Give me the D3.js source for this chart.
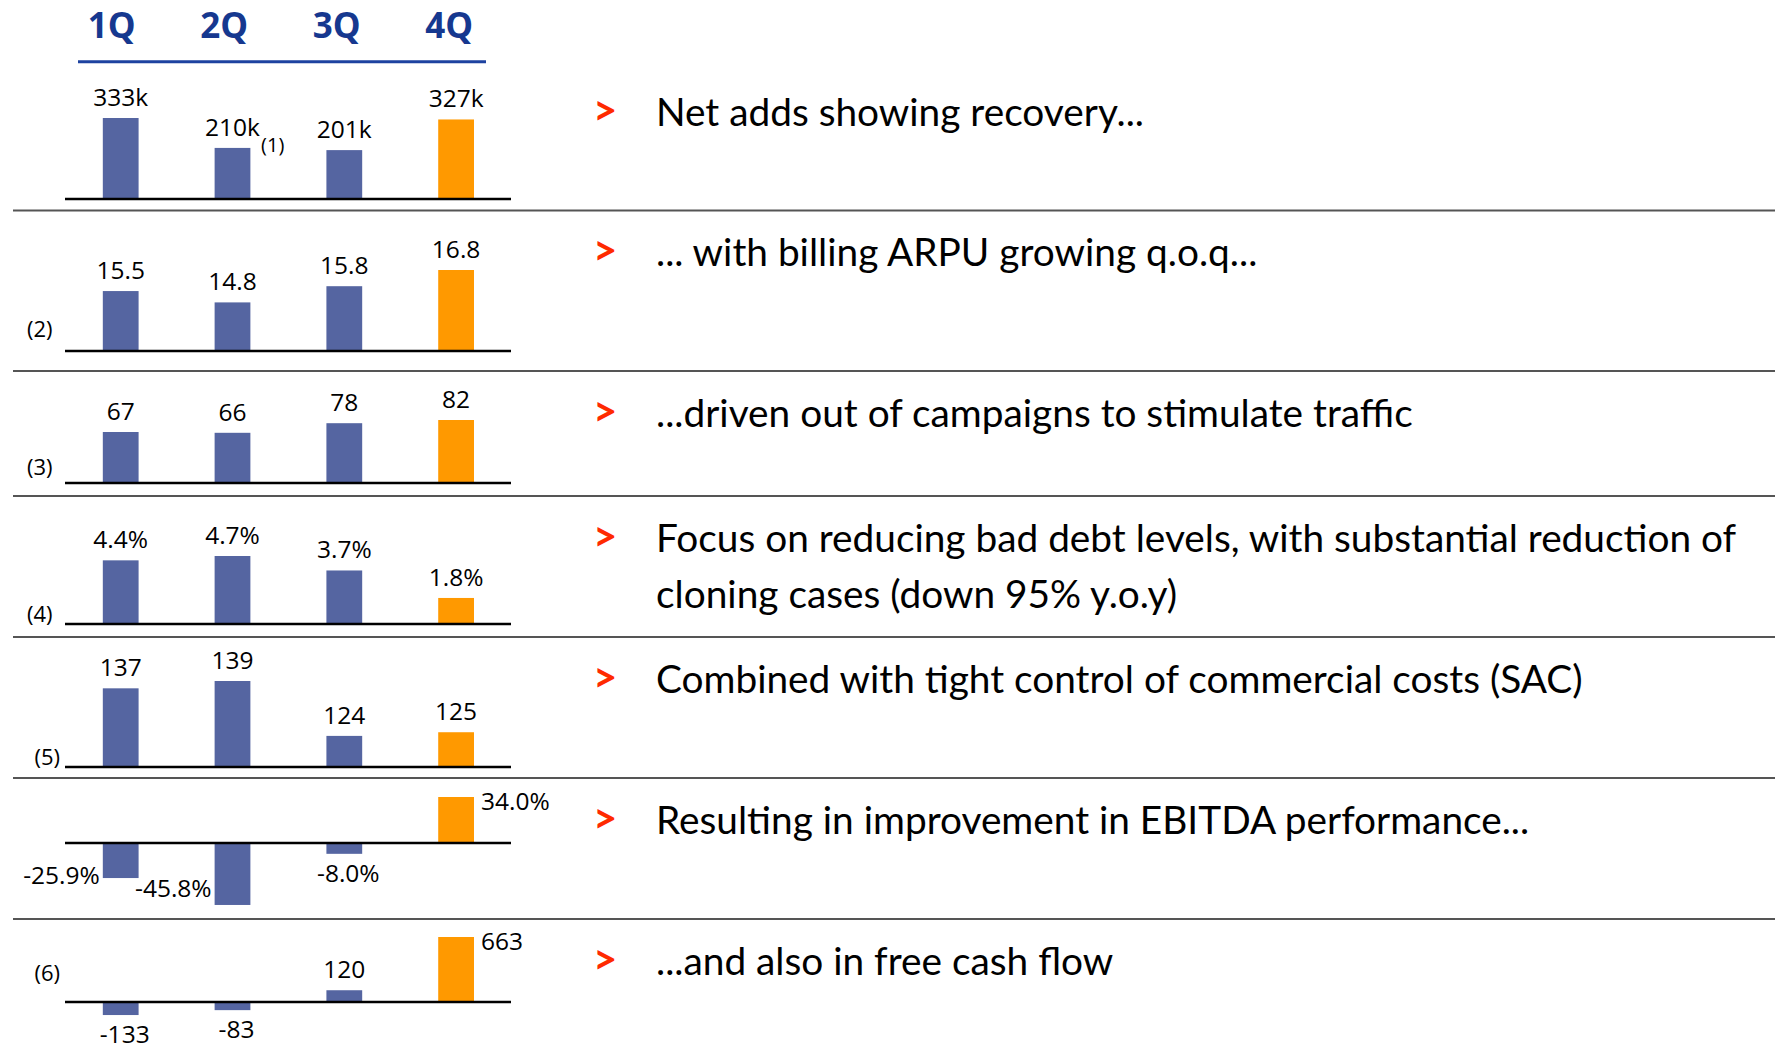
<!DOCTYPE html>
<html>
<head>
<meta charset="utf-8">
<script src="https://cdn.jsdelivr.net/npm/d3@7"></script>
<style>
  html, body { margin: 0; padding: 0; background: #ffffff; }
  svg { display: block; }
</style>
</head>
<body>
<svg id="chart" width="1778" height="1050"></svg>
<script>
// ---------------- DATA ----------------
const quarters = ["1Q", "2Q", "3Q", "4Q"];

const netAdds      = [333, 210, 201, 327];      // thousands
const billingArpu  = [15.5, 14.8, 15.8, 16.8];
const mou          = [67, 66, 78, 82];
const badDebt      = [4.4, 4.7, 3.7, 1.8];      // %
const sac          = [137, 139, 124, 125];
const ebitdaMargin = [-25.9, -45.8, -8.0, 34.0]; // %
const freeCashFlow = [-133, -83, 120, 663];

const footnotes = ["", "(2)", "(3)", "(4)", "(5)", "", "(6)"];
const netAddsNote = "(1)";

const commentary = [
  ["Net adds showing recovery..."],
  ["... with billing ARPU growing q.o.q..."],
  ["...driven out of campaigns to stimulate traffic"],
  ["Focus on reducing bad debt levels, with substantial reduction of",
   "cloning cases (down 95% y.o.y)"],
  ["Combined with tight control of commercial costs (SAC)"],
  ["Resulting in improvement in EBITDA performance..."],
  ["...and also in free cash flow"]
];

// label placement keywords per row
const placeEbitda = ["left", "left", "below", "right"];
const placeFcf    = ["below", "below", "above", "right"];

// ---------------- STYLE / LAYOUT ----------------
const BLUE = "#5565a1", ORANGE = "#ff9900", NAVY = "#16388f";
const numFont = "'Open Sans', 'Noto Sans', sans-serif";
const textFont = "Lato, 'Open Sans', sans-serif";

const svg = d3.select("#chart");
svg.append("rect").attr("width", 1778).attr("height", 1050).attr("fill", "#fff");

const x = d3.scaleBand().domain(quarters).range([64.8, 512]).paddingInner(0.68).paddingOuter(0.34);
const xHead = d3.scaleBand().domain(quarters).range([55.5, 505.5]);

// header
svg.selectAll("text.head").data(quarters).join("text")
  .attr("class", "head")
  .attr("x", d => xHead(d) + xHead.bandwidth() / 2)
  .attr("y", 38)
  .attr("text-anchor", "middle")
  .attr("font-family", numFont).attr("font-weight", 700).attr("font-size", 35)
  .attr("fill", NAVY)
  .text(d => d);
svg.append("line").attr("x1", 78).attr("x2", 486).attr("y1", 61.7).attr("y2", 61.7)
  .attr("stroke", "#1d42a0").attr("stroke-width", 3);

// rows: pixel layout (base = y of floor value, top = y of reference value)
const rows = [
  { values: netAdds,      floor: 0,     ref: 333,  base: 199,  top: 118, fmt: v => v + "k",            place: null,        sepTop: 70 },
  { values: billingArpu,  floor: 11.8,  ref: 16.8, base: 351,  top: 270, fmt: v => v.toFixed(1),        place: null,        sepTop: 210.5 },
  { values: mou,          floor: 3.25,  ref: 82,   base: 483,  top: 420, fmt: v => String(v),           place: null,        sepTop: 371 },
  { values: badDebt,      floor: 0,     ref: 4.7,  base: 624,  top: 556, fmt: v => v.toFixed(1) + "%",  place: null,        sepTop: 496 },
  { values: sac,          floor: 115.5, ref: 139,  base: 767,  top: 681, fmt: v => String(v),           place: null,        sepTop: 637 },
  { values: ebitdaMargin, floor: 0,     ref: 34,   base: 843,  top: 797, fmt: v => v.toFixed(1) + "%",  place: placeEbitda, sepTop: 778 },
  { values: freeCashFlow, floor: 0,     ref: 663,  base: 1002, top: 937, fmt: v => String(v),           place: placeFcf,    sepTop: 919 }
];

const footX = [0, 27, 27, 27, 34.5, 0, 34.5];
const footY = [0, 337, 475, 622, 765, 0, 981];

rows.forEach((row, ri) => {
  const y = d3.scaleLinear().domain([row.floor, row.ref]).range([row.base, row.top]);
  const g = svg.append("g");
  const data = quarters.map((q, i) => ({ q, v: row.values[i], i }));

  // separator above row (except first)
  if (ri > 0) {
    svg.append("line").attr("x1", 13).attr("x2", 1775)
      .attr("y1", row.sepTop).attr("y2", row.sepTop)
      .attr("stroke", "#555").attr("stroke-width", 2);
  }

  g.selectAll("rect").data(data).join("rect")
    .attr("x", d => x(d.q))
    .attr("width", x.bandwidth())
    .attr("y", d => Math.min(y(d.v), y(row.floor)))
    .attr("height", d => Math.abs(y(d.v) - y(row.floor)))
    .attr("fill", d => d.i === 3 ? ORANGE : BLUE);

  g.append("line").attr("x1", 65).attr("x2", 511)
    .attr("y1", row.base).attr("y2", row.base)
    .attr("stroke", "#000").attr("stroke-width", 2.5);

  const labels = g.selectAll("text.val").data(data).join("text")
    .attr("class", "val")
    .attr("font-family", numFont).attr("font-size", 24.5).attr("fill", "#000")
    .text(d => row.fmt(d.v));

  labels.each(function(d) {
    const sel = d3.select(this);
    const place = row.place ? row.place[d.i] : "above";
    const cx = x(d.q) + x.bandwidth() / 2;
    const yv = y(d.v), y0 = y(row.floor);
    if (place === "above") {
      sel.attr("x", cx).attr("y", Math.min(yv, y0) - 12).attr("text-anchor", "middle");
    } else if (place === "below") {
      sel.attr("x", cx + 4).attr("y", Math.max(yv, y0) + 28).attr("text-anchor", "middle");
    } else if (place === "left") {
      sel.attr("x", x(d.q) - 3).attr("y", (yv + y0) / 2 + 23).attr("text-anchor", "end");
    } else if (place === "right") {
      sel.attr("x", x(d.q) + x.bandwidth() + 7).attr("y", Math.min(yv, y0) + 13).attr("text-anchor", "start");
    }
  });

  // footnote marker
  if (footnotes[ri]) {
    svg.append("text").attr("x", footX[ri]).attr("y", footY[ri])
      .attr("font-family", numFont).attr("font-size", 22).attr("fill", "#000")
      .text(footnotes[ri]);
  }
  if (ri === 0) {
    const lab = labels.filter(d => d.i === 1).node();
    const bb = lab.getBBox();
    svg.append("text").attr("x", bb.x + bb.width + 1).attr("y", +d3.select(lab).attr("y") + 16)
      .attr("font-family", numFont).attr("font-size", 20).attr("fill", "#000")
      .text(netAddsNote);
  }

  // commentary
  const cy = row.sepTop + 55.5;
  svg.append("text").attr("x", 593).attr("y", cy - 1)
    .attr("font-family", textFont).attr("font-weight", 700).attr("font-size", 42)
    .attr("fill", "#ff2a00").text(">");
  commentary[ri].forEach((line, li) => {
    svg.append("text").attr("x", 656).attr("y", cy + li * 56)
      .attr("font-family", textFont).attr("font-size", 38.8).attr("fill", "#000")
      .text(line);
  });
});
</script>
</body>
</html>
